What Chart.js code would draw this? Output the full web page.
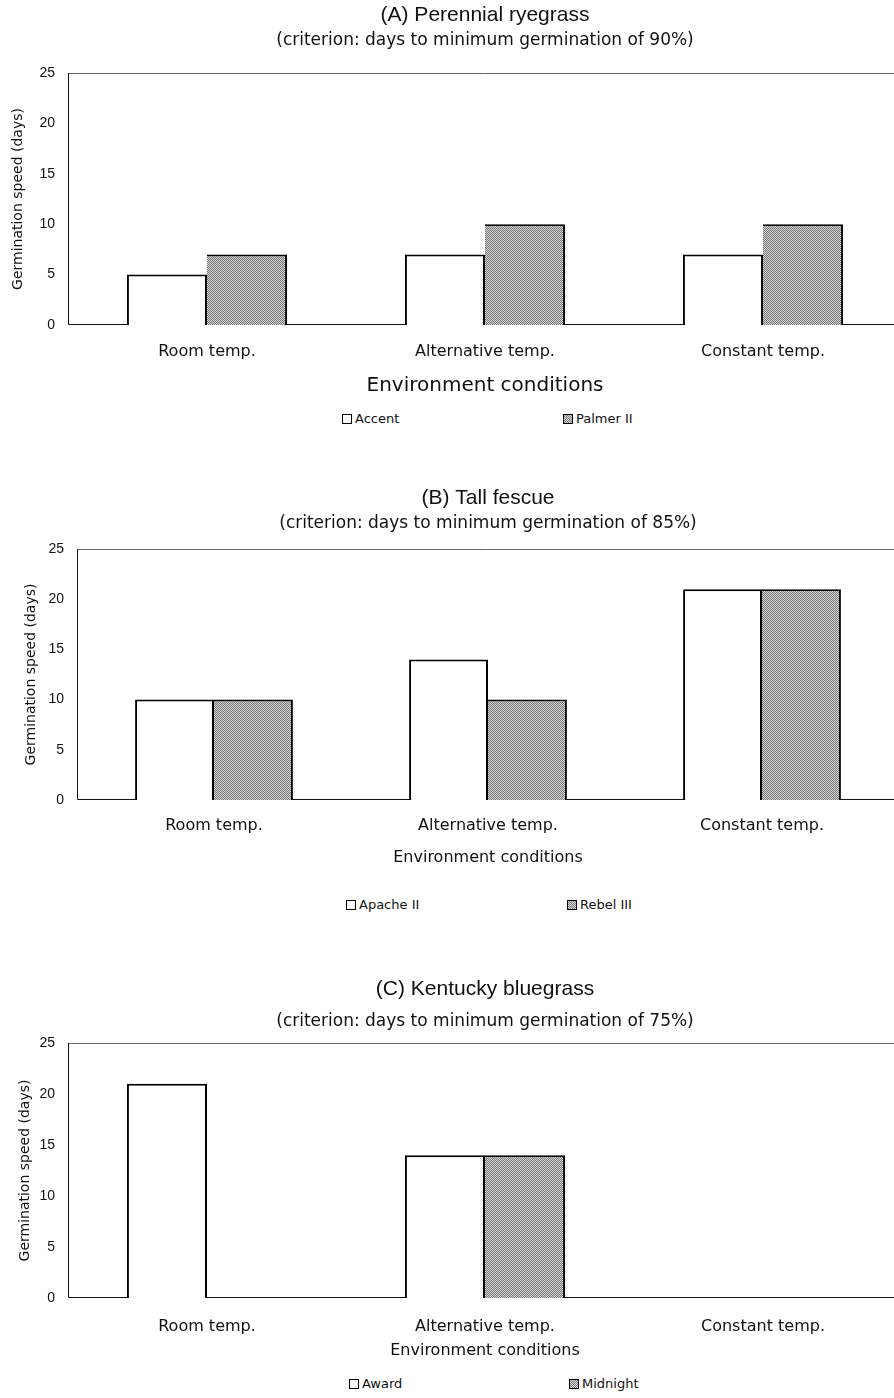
<!DOCTYPE html>
<html>
<head>
<meta charset="utf-8">
<script src="https://cdn.jsdelivr.net/npm/chart.js@4.4.0/dist/chart.umd.min.js"></script>
<style>
  html, body { margin: 0; padding: 0; background: #fff; overflow: hidden; width: 894px; height: 1398px; }
  canvas { position: absolute; left: 0; }
  .item { position: absolute; font: 13px "DejaVu Sans", sans-serif; color: #111; line-height: 14px; white-space: nowrap; }
  .box { display: inline-block; width: 8px; height: 8px; border: 1.5px solid #000; vertical-align: -1px; margin-right: 3px; background: #fff; }
  .box.gray { background: repeating-conic-gradient(#7d7d7d 0 25%, #d8d8d8 0 50%) 0 0 / 2px 2px; }
</style>
</head>
<body>
<canvas id="chartA" width="902" height="398" style="top:0px"></canvas>
<canvas id="chartB" width="899" height="385" style="top:482px"></canvas>
<canvas id="chartC" width="902" height="387" style="top:973px"></canvas>

<div class="item" style="left:342px; top:412px"><span class="box"></span>Accent</div>
<div class="item" style="left:563px; top:412px"><span class="box gray"></span>Palmer II</div>
<div class="item" style="left:346px; top:898px"><span class="box"></span>Apache II</div>
<div class="item" style="left:567px; top:898px"><span class="box gray"></span>Rebel III</div>
<div class="item" style="left:349px; top:1377px"><span class="box"></span>Award</div>
<div class="item" style="left:569px; top:1377px"><span class="box gray"></span>Midnight</div>

<script>
    // categories and values (days)
    const categories = ['Room temp.', 'Alternative temp.', 'Constant temp.'];

    const ryegrassAccent = [5, 7, 7];
    const ryegrassPalmer = [7, 10, 10];

    const fescueApache = [10, 14, 21];
    const fescueRebel = [10, 10, 21];

    const bluegrassAward = [21, 14, null];
    const bluegrassMidnight = [null, 14, null];

    const yMin = 0;
    const yMax = 25;
    const yStep = 5;

    // gray halftone fill like the printed figure
    function makeGrayFill() {
        const c = document.createElement('canvas');
        c.width = 2; c.height = 2;
        const g = c.getContext('2d');
        g.fillStyle = '#d4d4d4';
        g.fillRect(0, 0, 2, 2);
        g.fillStyle = '#777777';
        g.fillRect(0, 0, 1, 1);
        g.fillRect(1, 1, 1, 1);
        return g.createPattern(c, 'repeat');
    }
    const grayFill = makeGrayFill();

    // box around the plot area: grey top/right, black axes
    const framePlugin = {
        id: 'frame',
        beforeDatasetsDraw(chart) {
            const a = chart.chartArea;
            const ctx = chart.ctx;
            ctx.save();
            ctx.lineWidth = 1;
            ctx.strokeStyle = '#666';
            ctx.beginPath();
            ctx.moveTo(a.left, a.top + 0.5);
            ctx.lineTo(a.right - 0.5, a.top + 0.5);
            ctx.lineTo(a.right - 0.5, a.bottom);
            ctx.stroke();
            ctx.strokeStyle = '#111';
            ctx.beginPath();
            ctx.moveTo(a.left + 0.5, a.top);
            ctx.lineTo(a.left + 0.5, a.bottom - 0.5);
            ctx.lineTo(a.right, a.bottom - 0.5);
            ctx.stroke();
            ctx.restore();
        }
    };

    const sans = '"DejaVu Sans", sans-serif';

    function makeChart(id, cfg) {
        const canvas = document.getElementById(id);
        return new Chart(canvas, {
            type: 'bar',
            data: {
                labels: categories,
                datasets: [{
                    label: cfg.names[0],
                    data: cfg.first,
                    backgroundColor: '#ffffff',
                    borderColor: '#000',
                    borderWidth: 2
                }, {
                    label: cfg.names[1],
                    data: cfg.second,
                    backgroundColor: grayFill,
                    borderColor: '#000',
                    // left edge is shared with the white bar
                    borderWidth: { top: 2, right: 2, left: 0, bottom: 0 }
                }]
            },
            options: {
                responsive: false,
                animation: false,
                devicePixelRatio: 1,
                layout: { padding: 0 },
                datasets: {
                    bar: { categoryPercentage: 0.576, barPercentage: 1 }
                },
                plugins: {
                    legend: { display: false },
                    tooltip: { enabled: false },
                    title: {
                        display: true,
                        text: cfg.title,
                        fullSize: false,
                        color: '#111',
                        font: { family: '"Liberation Sans", Arial, sans-serif', size: 21, weight: 'normal' },
                        padding: { top: cfg.titlePad, bottom: 0 }
                    },
                    subtitle: {
                        display: true,
                        text: cfg.subtitle,
                        fullSize: false,
                        color: '#111',
                        font: { family: sans, size: 17 },
                        padding: { top: cfg.subPad[0], bottom: cfg.subPad[1] }
                    }
                },
                scales: {
                    x: {
                        grid: { display: false, drawTicks: false },
                        border: { display: false },
                        ticks: {
                            color: '#111',
                            padding: cfg.xTickPad,
                            font: { family: sans, size: 16 }
                        },
                        title: {
                            display: true,
                            text: 'Environment conditions',
                            color: '#111',
                            font: { family: sans, size: cfg.xTitleSize },
                            padding: 0
                        },
                        afterFit: function (scale) { scale.height = cfg.xAxisHeight; }
                    },
                    y: {
                        min: yMin,
                        max: yMax,
                        grid: { display: false, drawTicks: false },
                        border: { display: false },
                        ticks: {
                            stepSize: yStep,
                            color: '#111',
                            padding: 13,
                            font: { family: '"Liberation Sans", Arial, sans-serif', size: 14 }
                        },
                        title: {
                            display: true,
                            text: 'Germination speed (days)',
                            color: '#111',
                            font: { family: sans, size: 14 },
                            padding: { top: cfg.yTitlePad, bottom: 0 }
                        },
                        afterFit: function (scale) { scale.width = cfg.yAxisWidth; }
                    }
                }
            },
            plugins: [framePlugin]
        });
    }

    makeChart('chartA', {
        title: '(A) Perennial ryegrass',
        subtitle: '(criterion: days to minimum germination of 90%)',
        names: ['Accent', 'Palmer II'],
        first: ryegrassAccent,
        second: ryegrassPalmer,
        titlePad: 2.4,
        subPad: [3.2, 21.8],
        xTickPad: 17.4,
        xTitleSize: 20,
        xAxisHeight: 73,
        yTitlePad: 9.6,
        yAxisWidth: 68
    });

    makeChart('chartB', {
        title: '(B) Tall fescue',
        subtitle: '(criterion: days to minimum germination of 85%)',
        names: ['Apache II', 'Rebel III'],
        first: fescueApache,
        second: fescueRebel,
        titlePad: 3.4,
        subPad: [3.2, 14.8],
        xTickPad: 16.4,
        xTitleSize: 16,
        xAxisHeight: 67,
        yTitlePad: 22.6,
        yAxisWidth: 77
    });

    makeChart('chartC', {
        title: '(C) Kentucky bluegrass',
        subtitle: '(criterion: days to minimum germination of 75%)',
        names: ['Award', 'Midnight'],
        first: bluegrassAward,
        second: bluegrassMidnight,
        titlePad: 3.4,
        subPad: [10.2, 10.8],
        xTickPad: 19.4,
        xTitleSize: 16,
        xAxisHeight: 62,
        yTitlePad: 16.6,
        yAxisWidth: 68
    });
</script>
</body>
</html>
